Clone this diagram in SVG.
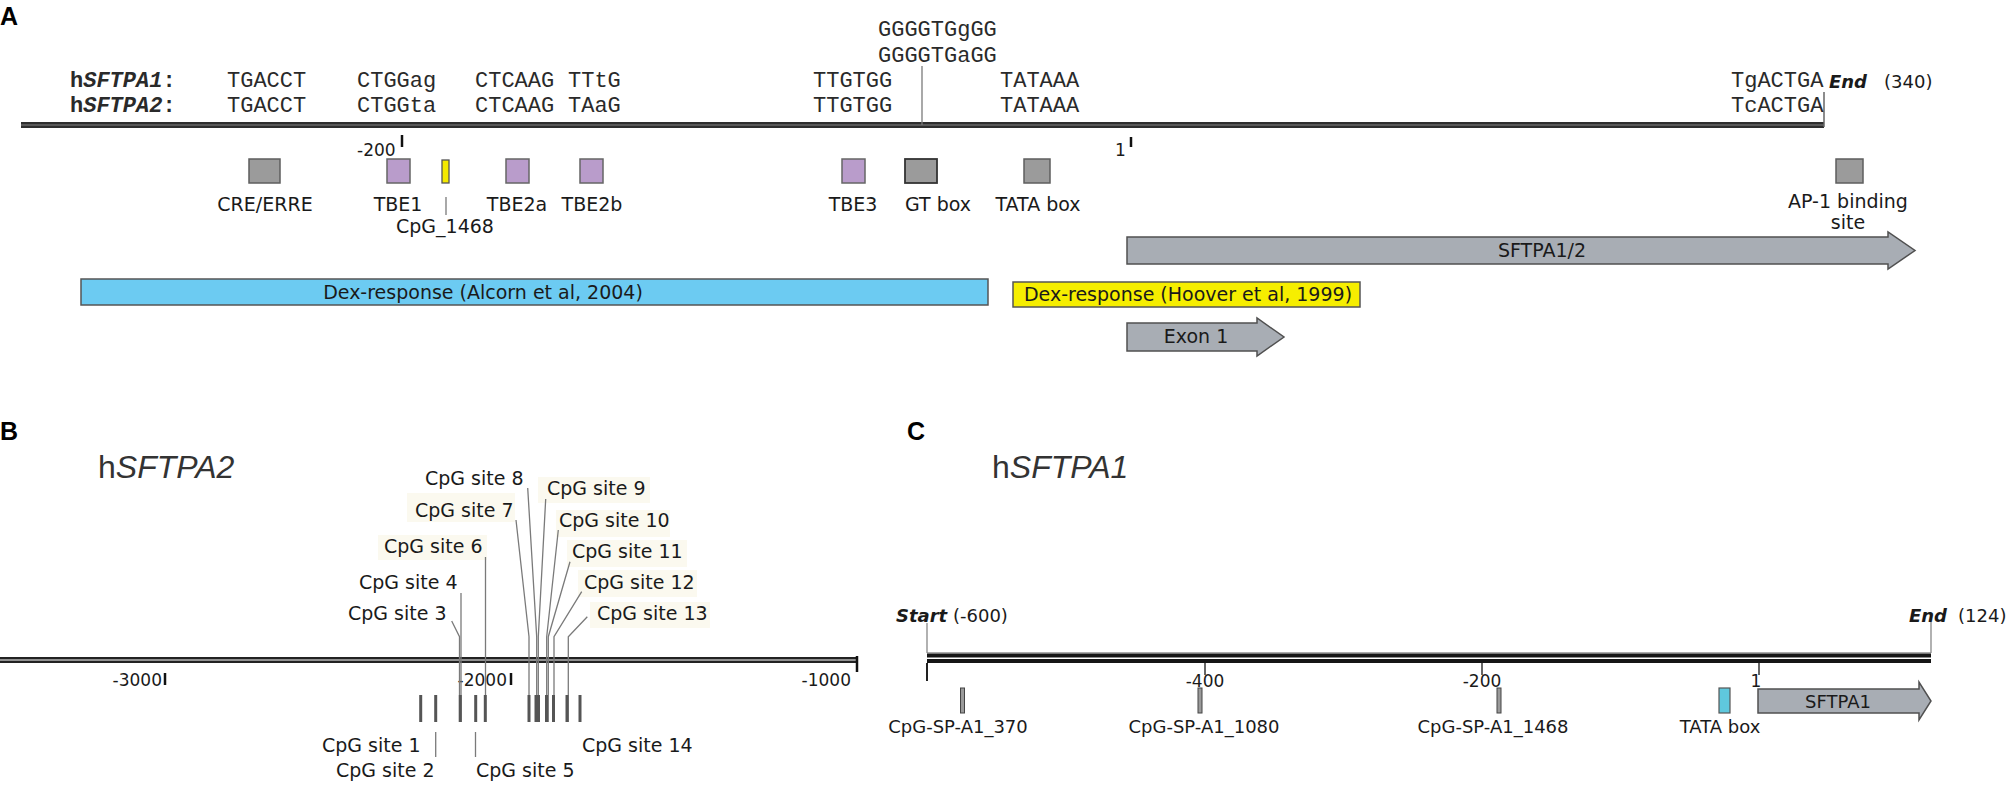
<svg xmlns="http://www.w3.org/2000/svg" width="2008" height="785" viewBox="0 0 2008 785">
<style>
text { font-family: "DejaVu Sans", Verdana, sans-serif; fill: #1a1a1a; }
.lbl { font-size: 19px; }
.lblc { font-size: 18px; }
.num { font-size: 17px; }
.mono { font-family: "Liberation Mono", "Courier New", monospace; font-size: 22px; fill: #2a2a2a; }
.panel { font-family: "Liberation Sans", Arial, sans-serif; font-weight: bold; font-size: 25px; fill: #000; }
.title { font-family: "Liberation Sans", Arial, sans-serif; font-size: 32px; fill: #333; }
.end { font-weight: bold; font-style: italic; font-size: 18px; }
.gray { fill: #9b9b9b; stroke: #5e5e5e; stroke-width: 1.5; }
.purple { fill: #b99ccb; stroke: #666; stroke-width: 1.5; }
.arrow { fill: #a8adb4; stroke: #505050; stroke-width: 1.5; }
.lead { stroke: #7a7a7a; stroke-width: 1.3; fill: none; }
.bar { stroke: #555; stroke-width: 3; }
.tick { stroke: #111; stroke-width: 2.5; }
.tickc { stroke: #333; stroke-width: 1.5; }
.bg { fill: #fbf9ef; }
.cpgm { fill: #9a9a9a; stroke: #444; stroke-width: 1; }
</style>

<!-- ================= Panel A ================= -->
<text class="panel" x="0" y="25">A</text>

<g id="a-backbone">
  <rect x="21" y="122" width="1803" height="6" fill="#2e2e2e"/>
  <line x1="21" y1="125" x2="1824" y2="125" stroke="#9a9a9a" stroke-width="0.8"/>
  <line x1="1824" y1="92" x2="1824" y2="127" stroke="#666" stroke-width="1.5"/>
  <line class="tick" x1="402" y1="135" x2="402" y2="147"/>
  <line class="tick" x1="1131" y1="137" x2="1131" y2="147"/>
  <text class="num" x="357" y="156">-200</text>
  <text class="num" x="1115" y="156">1</text>
  <text class="end" x="1829" y="88">End</text>
  <text x="1884" y="88" font-size="18">(340)</text>
</g>

<g id="a-sequences">
  <text class="mono" x="70" y="87" font-weight="bold">h<tspan font-style="italic">SFTPA1</tspan>:</text>
  <text class="mono" x="70" y="112" font-weight="bold">h<tspan font-style="italic">SFTPA2</tspan>:</text>
  <text class="mono" x="227" y="87">TGACCT</text>
  <text class="mono" x="227" y="112">TGACCT</text>
  <text class="mono" x="357" y="87">CTGGag</text>
  <text class="mono" x="357" y="112">CTGGta</text>
  <text class="mono" x="475" y="87">CTCAAG</text>
  <text class="mono" x="475" y="112">CTCAAG</text>
  <text class="mono" x="568" y="87">TTtG</text>
  <text class="mono" x="568" y="112">TAaG</text>
  <text class="mono" x="813" y="87">TTGTGG</text>
  <text class="mono" x="813" y="112">TTGTGG</text>
  <text class="mono" x="878" y="36">GGGGTGgGG</text>
  <text class="mono" x="878" y="62">GGGGTGaGG</text>
  <text class="mono" x="1000" y="87">TATAAA</text>
  <text class="mono" x="1000" y="112">TATAAA</text>
  <text class="mono" x="1731" y="87">TgACTGA</text>
  <text class="mono" x="1731" y="112">TcACTGA</text>
</g>

<g id="a-cre">
  <rect class="gray" x="249" y="159" width="31" height="24"/>
  <text class="lbl" x="265" y="211" text-anchor="middle">CRE/ERRE</text>
</g>
<g id="a-tbe1">
  <rect class="purple" x="387" y="159" width="23" height="24"/>
  <text class="lbl" x="398" y="211" text-anchor="middle">TBE1</text>
</g>
<g id="a-cpg1468">
  <rect x="442" y="160" width="7" height="23" fill="#f4e900" stroke="#555" stroke-width="1.3"/>
  <text class="lbl" x="445" y="233" text-anchor="middle">CpG_1468</text>
</g>
<g id="a-tbe2a">
  <rect class="purple" x="506" y="159" width="23" height="24"/>
  <text class="lbl" x="517" y="211" text-anchor="middle">TBE2a</text>
</g>
<g id="a-tbe2b">
  <rect class="purple" x="580" y="159" width="23" height="24"/>
  <text class="lbl" x="592" y="211" text-anchor="middle">TBE2b</text>
</g>
<g id="a-tbe3">
  <rect class="purple" x="842" y="159" width="23" height="24"/>
  <text class="lbl" x="853" y="211" text-anchor="middle">TBE3</text>
</g>
<g id="a-gtbox">
  <rect x="905" y="159" width="32" height="24" fill="#9b9b9b" stroke="#333" stroke-width="1.8"/>
  <text class="lbl" x="905" y="211">GT box</text>
</g>
<g id="a-tatabox">
  <rect class="gray" x="1024" y="159" width="26" height="24"/>
  <text class="lbl" x="1038" y="211" text-anchor="middle">TATA box</text>
</g>
<g id="a-ap1">
  <rect class="gray" x="1836" y="159" width="27" height="24"/>
  <text class="lbl" x="1848" y="208" text-anchor="middle">AP-1 binding</text>
  <text class="lbl" x="1848" y="229" text-anchor="middle">site</text>
</g>
<g id="a-sftpa12">
  <polygon class="arrow" points="1127,237 1888,237 1888,232 1915,250.5 1888,269 1888,264 1127,264"/>
  <text class="lbl" x="1542" y="257" text-anchor="middle">SFTPA1/2</text>
</g>
<g id="a-dex-alcorn">
  <rect x="81" y="279" width="907" height="26" fill="#6ccbf2" stroke="#555" stroke-width="1.5"/>
  <text class="lbl" x="483" y="299" text-anchor="middle">Dex-response (Alcorn et al, 2004)</text>
</g>
<g id="a-dex-hoover">
  <rect x="1013" y="282" width="347" height="25" fill="#f6ee00" stroke="#555" stroke-width="1.5"/>
  <text class="lbl" x="1188" y="301" text-anchor="middle">Dex-response (Hoover et al, 1999)</text>
</g>
<g id="a-exon1">
  <polygon class="arrow" points="1127,323 1257,323 1257,318 1284,337 1257,356 1257,351 1127,351"/>
  <text class="lbl" x="1196" y="343" text-anchor="middle">Exon 1</text>
</g>

<g id="a-connectors">
  <line class="lead" x1="922" y1="66" x2="922" y2="125"/>
  <line class="lead" x1="446" y1="197" x2="446" y2="215"/>
</g>

<!-- ================= Panel B ================= -->
<text class="panel" x="0" y="440">B</text>
<text class="title" x="98" y="478">h<tspan font-style="italic">SFTPA2</tspan></text>

<g id="b-backbone">
  <rect x="0" y="657" width="857" height="6" fill="#222"/>
  <line x1="0" y1="660" x2="857" y2="660" stroke="#fff" stroke-width="1"/>
  <line class="tick" x1="857" y1="656" x2="857" y2="672" stroke-width="3"/>
  <line class="tick" x1="165" y1="673" x2="165" y2="685"/>
  <line class="tick" x1="511" y1="673" x2="511" y2="685"/>
  <text class="num" x="162" y="686" text-anchor="end">-3000</text>
  <text class="num" x="507" y="686" text-anchor="end">-2000</text>
  <text class="num" x="851" y="686" text-anchor="end">-1000</text>
</g>

<g id="b-label-bgs">
  <rect class="bg" x="407" y="493" width="108" height="29"/>
  <rect class="bg" x="378" y="535" width="109" height="25"/>
  <rect class="bg" x="538" y="477" width="112" height="26"/>
  <rect class="bg" x="556" y="510" width="114" height="27"/>
  <rect class="bg" x="567" y="540" width="120" height="27"/>
  <rect class="bg" x="578" y="570" width="119" height="27"/>
  <rect class="bg" x="590" y="602" width="120" height="26"/>
</g>

<g id="b-connectors">
  <polyline class="lead" points="451.7,621 459.5,636.7 459.5,722"/>
  <line class="lead" x1="461" y1="593" x2="461" y2="722"/>
  <line class="lead" x1="485.5" y1="557" x2="485.5" y2="722"/>
  <polyline class="lead" points="516,520 529,636.7 529,722"/>
  <polyline class="lead" points="527.7,488 536.7,636.7 536.7,722"/>
  <polyline class="lead" points="545.7,499 538.3,636.7 538.3,722"/>
  <polyline class="lead" points="558.3,530 546.7,636.7 546.7,722"/>
  <polyline class="lead" points="570,561.7 548.3,636.7 548.3,722"/>
  <polyline class="lead" points="581.7,591.7 554,636.7 554,722"/>
  <polyline class="lead" points="587.3,616.7 568.3,636.7 568.3,722"/>
  <line class="lead" x1="435.7" y1="732" x2="435.7" y2="757"/>
  <line class="lead" x1="475.5" y1="732" x2="475.5" y2="757"/>
</g>

<g id="b-sites">
  <line class="bar" x1="420.7" y1="695" x2="420.7" y2="722" stroke-width="2.2"/>
  <line class="bar" x1="435.7" y1="695" x2="435.7" y2="722" stroke-width="2.2"/>
  <line class="bar" x1="460.3" y1="695" x2="460.3" y2="722"/>
  <line class="bar" x1="475.7" y1="695" x2="475.7" y2="722"/>
  <line class="bar" x1="485.3" y1="695" x2="485.3" y2="722"/>
  <line class="bar" x1="529" y1="695" x2="529" y2="722" stroke-width="2.2"/>
  <line class="bar" x1="536" y1="695" x2="536" y2="722"/>
  <line class="bar" x1="538.5" y1="695" x2="538.5" y2="722"/>
  <line class="bar" x1="546.5" y1="695" x2="546.5" y2="722"/>
  <line class="bar" x1="553.5" y1="695" x2="553.5" y2="722"/>
  <line class="bar" x1="567" y1="695" x2="567" y2="722"/>
  <line class="bar" x1="580" y1="695" x2="580" y2="722" stroke-width="2.2"/>
</g>

<g id="b-site-labels">
  <text class="lbl" x="322" y="752">CpG site 1</text>
  <text class="lbl" x="336" y="777">CpG site 2</text>
  <text class="lbl" x="348" y="620">CpG site 3</text>
  <text class="lbl" x="359" y="589">CpG site 4</text>
  <text class="lbl" x="476" y="777">CpG site 5</text>
  <text class="lbl" x="384" y="553">CpG site 6</text>
  <text class="lbl" x="415" y="517">CpG site 7</text>
  <text class="lbl" x="425" y="485">CpG site 8</text>
  <text class="lbl" x="547" y="495">CpG site 9</text>
  <text class="lbl" x="559" y="527">CpG site 10</text>
  <text class="lbl" x="572" y="558">CpG site 11</text>
  <text class="lbl" x="584" y="589">CpG site 12</text>
  <text class="lbl" x="597" y="620">CpG site 13</text>
  <text class="lbl" x="582" y="752">CpG site 14</text>
</g>

<!-- ================= Panel C ================= -->
<text class="panel" x="907" y="440">C</text>
<text class="title" x="992" y="478">h<tspan font-style="italic">SFTPA1</tspan></text>

<g id="c-backbone">
  <line x1="927" y1="652.8" x2="1931" y2="652.8" stroke="#888" stroke-width="1"/>
  <rect x="927" y="653.5" width="1004" height="9.5" fill="#151515"/>
  <line x1="927" y1="658.3" x2="1931" y2="658.3" stroke="#fff" stroke-width="1.4"/>
  <line x1="927" y1="623" x2="927" y2="653" stroke="#888" stroke-width="1.3"/>
  <line x1="927" y1="663" x2="927" y2="681" stroke="#222" stroke-width="2"/>
  <line x1="1931" y1="622" x2="1931" y2="653" stroke="#888" stroke-width="1.3"/>
  <line class="tickc" x1="1205" y1="663" x2="1205" y2="675"/>
  <line class="tickc" x1="1482" y1="663" x2="1482" y2="675"/>
  <line class="tickc" x1="1759" y1="663" x2="1759" y2="675"/>
  <text class="num" x="1205" y="687" text-anchor="middle">-400</text>
  <text class="num" x="1482" y="687" text-anchor="middle">-200</text>
  <text class="num" x="1756" y="687" text-anchor="middle">1</text>
  <text class="end" x="896" y="622">Start</text>
  <text x="953" y="622" font-size="18">(-600)</text>
  <text class="end" x="1909" y="622">End</text>
  <text x="1958" y="622" font-size="18">(124)</text>
</g>

<g id="c-cpg370">
  <rect class="cpgm" x="960.5" y="688" width="4" height="25"/>
  <text class="lblc" x="958" y="733" text-anchor="middle">CpG-SP-A1_370</text>
</g>
<g id="c-cpg1080">
  <rect class="cpgm" x="1198" y="688" width="4" height="25"/>
  <text class="lblc" x="1204" y="733" text-anchor="middle">CpG-SP-A1_1080</text>
</g>
<g id="c-cpg1468">
  <rect class="cpgm" x="1497" y="688" width="4" height="25"/>
  <text class="lblc" x="1493" y="733" text-anchor="middle">CpG-SP-A1_1468</text>
</g>
<g id="c-tata">
  <rect x="1719" y="688" width="11" height="25" fill="#5fc8dd" stroke="#555" stroke-width="1.2"/>
  <text class="lblc" x="1720" y="733" text-anchor="middle">TATA box</text>
</g>
<g id="c-sftpa1">
  <polygon class="arrow" points="1758,689 1919,689 1919,682 1931,701 1919,720 1919,713 1758,713"/>
  <text class="lblc" x="1838" y="708" text-anchor="middle">SFTPA1</text>
</g>
</svg>
